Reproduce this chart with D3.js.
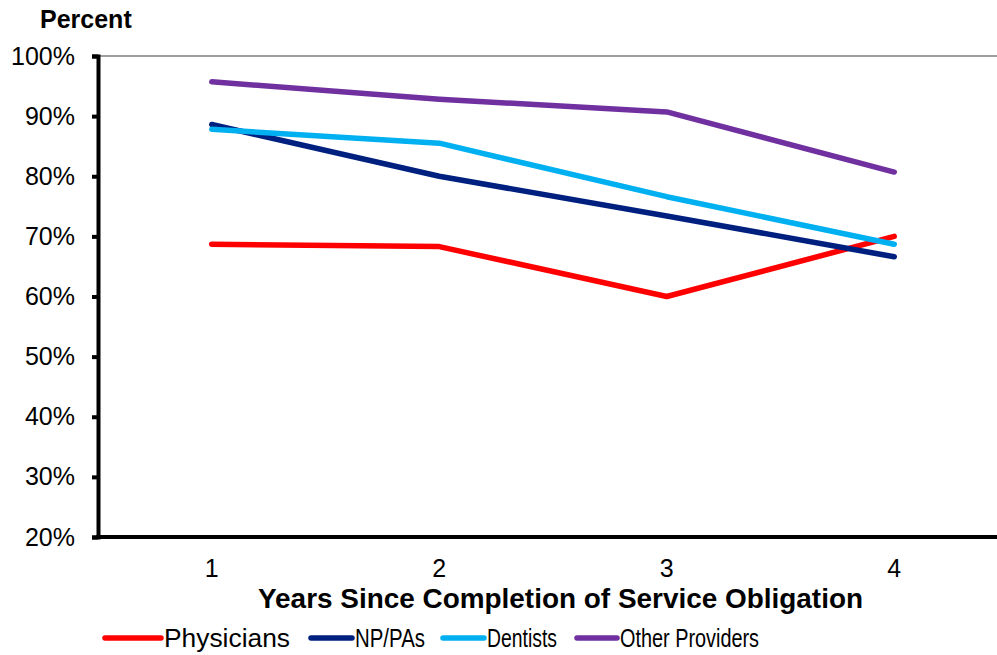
<!DOCTYPE html>
<html>
<head>
<meta charset="utf-8">
<script src="https://cdn.jsdelivr.net/npm/d3@7"></script>
<style>
  html, body { margin: 0; padding: 0; background: #fff; }
  svg { display: block; font-family: "Liberation Sans", Arial, sans-serif; }
</style>
</head>
<body>
<svg id="chart" width="997" height="655"></svg>
<script>
// Share of providers still serving, by years after obligation ends
const years = ["1", "2", "3", "4"];
const seriesNames = ["Physicians", "NP/PAs", "Dentists", "Other Providers"];
const physicians = [68.7, 68.3, 60.0, 70.0];
const npPas = [88.6, 80.0, 73.4, 66.6];
const dentists = [87.8, 85.5, 76.6, 68.7];
const otherProviders = [95.7, 92.8, 90.7, 80.7];
const seriesColors = ["#FF0000", "#002080", "#00B0F0", "#7030A0"];
const yTicks = [20, 30, 40, 50, 60, 70, 80, 90, 100];

const seriesValues = [physicians, npPas, dentists, otherProviders];

const FONT = "'Liberation Sans', Arial, sans-serif";
const svg = d3.select("#chart");
const plot = { left: 98, top: 56, bottom: 537, right: 1008 };

const x = d3.scaleBand().domain(years).range([plot.left, plot.right]);
const y = d3.scaleLinear().domain([20, 100]).range([plot.bottom, plot.top]);

// Thin frame line along the top of the plot area
svg.append("line")
  .attr("x1", plot.left).attr("x2", 997)
  .attr("y1", y(100)).attr("y2", y(100))
  .attr("stroke", "#404040").attr("stroke-width", 1.2);

// Y axis
const yAxis = svg.append("g")
  .attr("transform", `translate(${plot.left},0)`)
  .call(d3.axisLeft(y).tickValues(yTicks).tickFormat(d => d + "%").tickSize(6).tickPadding(17));
yAxis.select(".domain").attr("stroke", "#000").attr("stroke-width", 4);
yAxis.selectAll(".tick line").attr("stroke", "#000").attr("stroke-width", 4);
yAxis.selectAll(".tick text")
  .attr("font-size", 25).attr("fill", "#000").attr("font-family", FONT);

// X axis
const xAxis = svg.append("g")
  .attr("transform", `translate(0,${plot.bottom})`)
  .call(d3.axisBottom(x).tickSize(0).tickPadding(22));
xAxis.select(".domain").attr("stroke", "#000").attr("stroke-width", 4)
  .attr("d", `M${plot.left - 2},0H997`);
xAxis.selectAll(".tick text")
  .attr("font-size", 25).attr("fill", "#000").attr("font-family", FONT);

// Series lines
const line = d3.line()
  .x((d, i) => x(years[i]) + x.bandwidth() / 2)
  .y(d => y(d));

seriesValues.forEach((vals, k) => {
  svg.append("path")
    .datum(vals)
    .attr("d", line)
    .attr("fill", "none")
    .attr("stroke", seriesColors[k])
    .attr("stroke-width", 5.5)
    .attr("stroke-linecap", "round")
    .attr("stroke-linejoin", "round");
});

// Titles
svg.append("text")
  .attr("x", 40).attr("y", 28)
  .attr("font-size", 25).attr("font-weight", "bold")
  .text("Percent");

svg.append("text")
  .attr("x", 258).attr("y", 608)
  .attr("font-size", 27).attr("font-weight", "bold")
  .attr("textLength", 605).attr("lengthAdjust", "spacingAndGlyphs")
  .text("Years Since Completion of Service Obligation");

// Legend: swatch span, label start and label width for each entry
const legendLayout = [
  { x1: 105, x2: 161, tx: 164, w: 126 },
  { x1: 311, x2: 352, tx: 355, w: 70 },
  { x1: 443, x2: 484, tx: 487, w: 70 },
  { x1: 577, x2: 617, tx: 620, w: 139 }
];
const legend = svg.append("g");
seriesNames.forEach((name, k) => {
  const pos = legendLayout[k];
  legend.append("line")
    .attr("x1", pos.x1).attr("x2", pos.x2)
    .attr("y1", 638).attr("y2", 638)
    .attr("stroke", seriesColors[k])
    .attr("stroke-width", 5.5)
    .attr("stroke-linecap", "round");
  legend.append("text")
    .attr("x", pos.tx).attr("y", 647)
    .attr("font-size", 26)
    .attr("textLength", pos.w).attr("lengthAdjust", "spacingAndGlyphs")
    .text(name);
});
</script>
</body>
</html>
